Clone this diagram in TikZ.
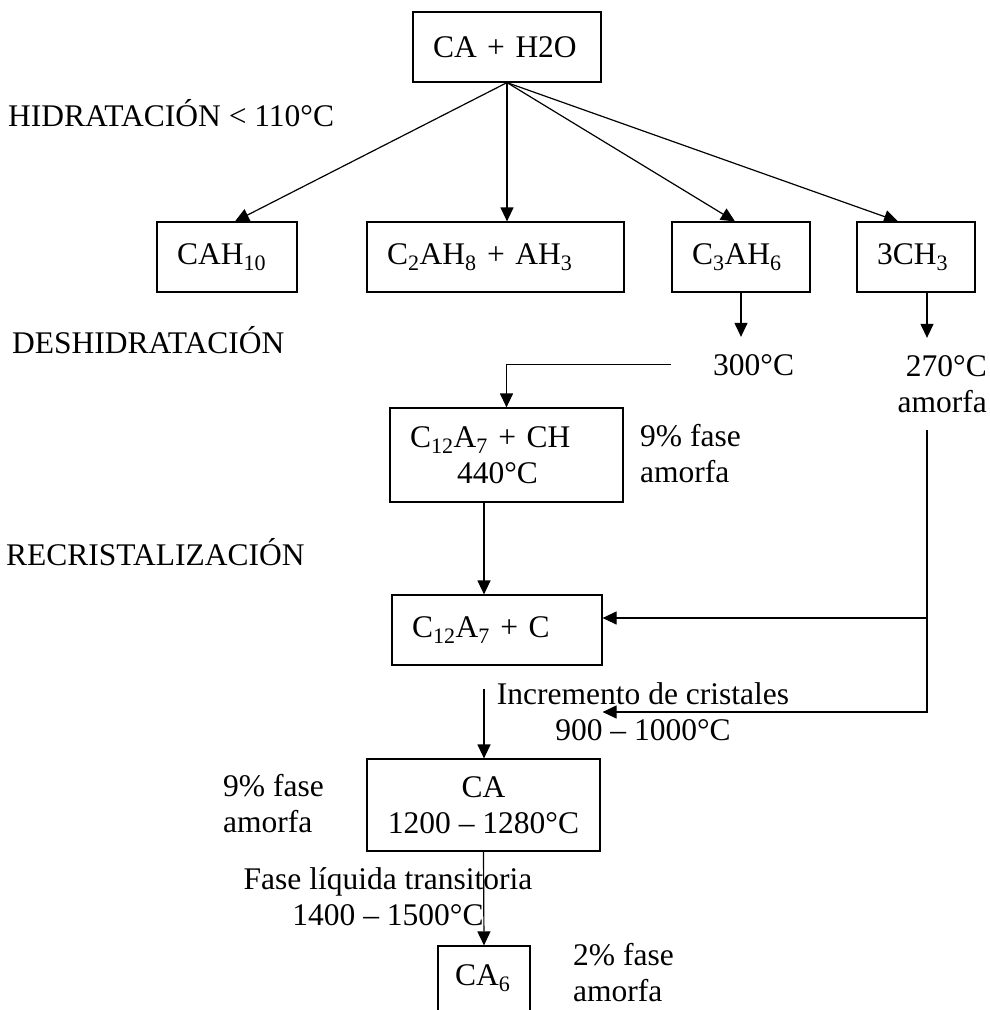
\documentclass[tikz,border=0pt]{standalone}
\usepackage{fontspec}
\setmainfont{Liberation Serif}
\usetikzlibrary{positioning,arrows.meta,calc}
\newcommand{\subi}[1]{\textsubscript{#1}}

\tikzset{
  caja/.style={draw, line width=1.2pt, inner xsep=20pt, inner ysep=0pt, align=left},
  etiqueta/.style={inner sep=0pt},
  flecha/.style={line width=1.2pt, -{Triangle[length=14pt,width=13pt]}},
}

\begin{document}
\begin{tikzpicture}[x=1pt, y=-1pt, font=\fontsize{31.5}{36}\selectfont]
  \useasboundingbox (0,0) rectangle (989,1010);
  \clip (0,0) rectangle (989,1010);

  % Etapas
  \node[etiqueta, anchor=base west] (hidr) at (8,126) {HIDRATACIÓN < 110°C};
  \node[etiqueta, anchor=base west] (desh) at (12,353) {DESHIDRATACIÓN};
  \node[etiqueta, anchor=base west] (recr) at (6,565) {RECRISTALIZACIÓN};

  % Hidratacion
  \node[caja, text width=148pt, minimum height=70pt] (cah) at (507,47) {CA + H2O};
  \node[caja, text width=100pt, minimum height=70pt] (cah10) at (227,257) {CAH\subi{10}};
  \node[caja, text width=217pt, minimum height=70pt] (c2ah8) at (495.5,257) {C\subi{2}AH\subi{8} + AH\subi{3}};
  \node[caja, text width=98pt, minimum height=70pt] (c3ah6) at (741,257) {C\subi{3}AH\subi{6}};
  \node[caja, text width=78pt, minimum height=70pt] (ch3) at (916,257) {3CH\subi{3}};

  % Deshidratacion
  \node[etiqueta, anchor=base west] (t300) at (713,375) {300°C};
  \node[etiqueta, anchor=base east, align=right] (t270) at (987,412) {270°C\\amorfa};
  \node[caja, text width=193pt, minimum height=94pt] (c12ch) at (506.5,455) {C\subi{12}A\subi{7} + CH\\\hspace*{47pt}440°C};
  \node[etiqueta, anchor=base west, align=left] (f9a) at (640,482) {9\% fase\\amorfa};

  % Recristalizacion
  \node[caja, text width=170pt, minimum height=70pt] (c12c) at (497,630) {C\subi{12}A\subi{7} + C};
  \node[etiqueta, anchor=base, align=center] (inc) at (643,740) {Incremento de cristales\\900 – 1000°C};
  \node[caja, align=center, inner xsep=0pt, minimum width=233pt, minimum height=92pt] (ca) at (483.5,805) {CA\\1200 – 1280°C};
  \node[etiqueta, anchor=base west, align=left] (f9b) at (223,832) {9\% fase\\amorfa};
  \node[etiqueta, anchor=base, align=center] (fliq) at (388,925) {Fase líquida transitoria\\1400 – 1500°C};
  \node[caja, inner xsep=17pt, text width=58pt, minimum height=65pt] (ca6) at (484,978.5) {CA\subi{6}};
  \node[etiqueta, anchor=base west, align=left] (f2) at (573,1001) {2\% fase\\amorfa};

  % Flechas
  \coordinate (eje) at (484,0);
  \draw[flecha] (cah.south) -- ([xshift=8pt]cah10.north);
  \draw[flecha] (cah.south) -- (cah.south |- c2ah8.north);
  \draw[flecha] (cah.south) -- ([xshift=-6pt]c3ah6.north);
  \draw[flecha] (cah.south) -- ([xshift=-18pt]ch3.north);

  \draw[flecha, shorten >=17pt] (c3ah6.south) -- (c3ah6.south |- t300.north);
  \coordinate (s270) at ([xshift=11pt]ch3.south);
  \draw[flecha, shorten >=17pt] (s270) -- (s270 |- t270.north);

  \coordinate (e300) at ([xshift=-42pt]t300.west);
  \draw[flecha] (e300) -| (c12ch.north);
  \draw[flecha] (eje |- c12ch.south) -- (eje |- c12c.north);

  \coordinate (e270) at (927,430);
  \coordinate (f270) at (927,712);
  \draw[flecha] (e270) |- ([yshift=12pt]c12c.east);
  \draw[flecha] (e270) -- (f270) -- (f270 -| c12c.east);

  \coordinate (s900) at ($(eje |- c12c.south)+(0,23)$);
  \draw[flecha] (s900) -- (eje |- ca.north);
  \draw[flecha] (ca.south) -- (ca6.north);
\end{tikzpicture}
\end{document}
